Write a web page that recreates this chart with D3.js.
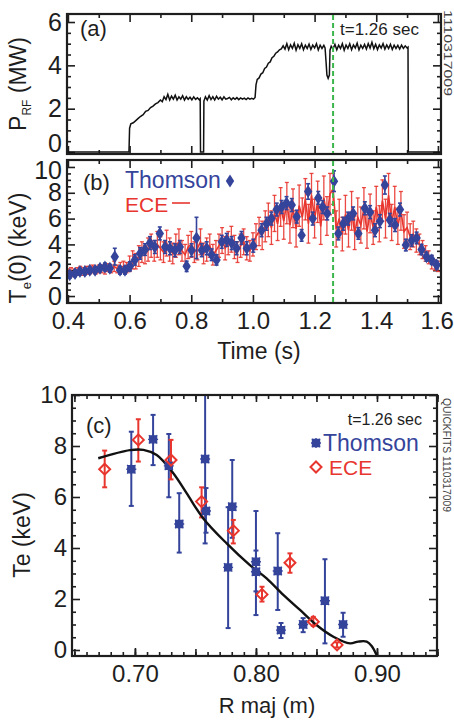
<!DOCTYPE html>
<html>
<head>
<meta charset="utf-8">
<script src="https://cdnjs.cloudflare.com/ajax/libs/d3/7.8.5/d3.min.js"></script>
<style>
body{margin:0;background:#fff}
svg{display:block;font-family:"Liberation Sans",Arial,sans-serif}
</style>
</head>
<body>
<script>
// ---- panel (a): RF power trace, [time (s), MW]
var prf = [[0.397,0],[0.598,0],[0.600,1.1],[0.604,1.3],[0.612,1.35],[0.620,1.45],[0.628,1.55],[0.636,1.65],[0.644,1.72],[0.652,1.88],[0.660,1.92],[0.668,2.05],[0.676,2.12],[0.684,2.22],[0.692,2.28],[0.700,2.4],[0.706,2.32],[0.712,2.55],[0.718,2.42],[0.724,2.66],[0.730,2.4],[0.736,2.58],[0.742,2.44],[0.748,2.62],[0.754,2.4],[0.760,2.55],[0.766,2.44],[0.772,2.6],[0.778,2.4],[0.784,2.55],[0.790,2.43],[0.796,2.53],[0.802,2.41],[0.808,2.55],[0.814,2.43],[0.820,2.5],[0.826,2.41],[0.829,2.46],[0.830,0],[0.840,0],[0.841,2.35],[0.846,2.55],[0.852,2.4],[0.858,2.6],[0.864,2.42],[0.870,2.55],[0.876,2.4],[0.882,2.57],[0.888,2.44],[0.894,2.53],[0.900,2.41],[0.906,2.55],[0.912,2.44],[0.918,2.47],[0.924,2.52],[0.930,2.41],[0.936,2.5],[0.942,2.43],[0.948,2.51],[0.954,2.42],[0.960,2.5],[0.966,2.44],[0.972,2.49],[0.978,2.42],[0.984,2.5],[0.990,2.44],[0.996,2.48],[1.002,2.44],[1.007,2.52],[1.010,3.1],[1.014,3.35],[1.020,3.42],[1.026,3.6],[1.032,3.66],[1.038,3.86],[1.044,3.92],[1.050,4.1],[1.056,4.16],[1.062,4.35],[1.068,4.42],[1.074,4.56],[1.080,4.62],[1.086,4.72],[1.092,4.76],[1.098,4.9],[1.104,4.75],[1.110,5.0],[1.116,4.72],[1.122,4.95],[1.128,4.78],[1.134,5.02],[1.140,4.7],[1.146,4.95],[1.152,4.78],[1.158,5.0],[1.164,4.72],[1.170,4.93],[1.176,4.78],[1.182,4.98],[1.188,4.73],[1.194,4.93],[1.200,4.8],[1.206,5.0],[1.212,4.71],[1.218,4.93],[1.224,4.78],[1.230,4.92],[1.234,4.8],[1.237,4.2],[1.240,3.55],[1.244,3.4],[1.248,3.55],[1.250,4.7],[1.254,4.88],[1.260,4.76],[1.266,4.97],[1.272,4.72],[1.278,4.93],[1.284,4.78],[1.290,5.0],[1.296,4.7],[1.302,4.94],[1.308,4.78],[1.314,5.0],[1.320,4.72],[1.326,4.94],[1.332,4.8],[1.338,5.02],[1.344,4.71],[1.350,4.93],[1.356,4.78],[1.362,4.97],[1.368,4.75],[1.374,5.0],[1.380,4.8],[1.386,5.06],[1.392,4.77],[1.398,4.97],[1.404,4.73],[1.410,4.94],[1.416,4.8],[1.422,5.0],[1.428,4.75],[1.434,4.94],[1.440,4.78],[1.446,4.97],[1.452,4.73],[1.458,4.93],[1.464,4.78],[1.470,4.92],[1.476,4.75],[1.482,4.93],[1.488,4.78],[1.494,4.9],[1.500,4.8],[1.503,4.84],[1.504,0],[1.610,0]];
var tMark = 1.26;

// ---- panel (b): central Te vs time
var thomT   = [0.406,0.423,0.439,0.455,0.471,0.488,0.504,0.520,0.536,0.552,0.569,0.585,0.601,0.617,0.634,0.650,0.666,0.682,0.698,0.715,0.731,0.747,0.763,0.785,0.801,0.817,0.834,0.850,0.866,0.882,0.899,0.915,0.931,0.947,0.963,0.980,1.001,1.028,1.044,1.060,1.077,1.093,1.109,1.126,1.142,1.158,1.179,1.194,1.212,1.226,1.241,1.263,1.277,1.293,1.309,1.325,1.342,1.363,1.380,1.396,1.412,1.428,1.444,1.461,1.477,1.496,1.515,1.531,1.547,1.563,1.580,1.596];
var thomTe  = [1.65,1.75,1.9,1.9,2.0,2.0,2.15,2.25,2.15,3.05,2.0,2.0,2.3,2.8,3.3,3.6,4.1,3.8,4.85,3.8,3.7,3.55,3.8,2.3,3.55,4.5,3.55,3.7,3.2,2.8,4.2,4.35,4.1,3.7,4.5,3.7,3.9,5.1,5.6,6.0,6.7,6.9,7.2,7.05,6.15,4.7,8.1,6.0,7.6,6.9,6.4,8.9,4.85,5.6,6.0,6.4,4.85,6.8,6.5,5.1,5.8,8.6,5.9,5.5,6.7,3.95,4.3,4.5,3.6,3.05,2.8,2.4];
var thomErr = [0.25,0.25,0.25,0.25,0.25,0.25,0.25,0.3,0.3,0.65,0.3,0.3,0.35,0.4,0.45,0.45,0.5,0.5,0.5,0.5,0.5,0.5,0.5,0.4,0.5,1.6,0.5,0.5,0.45,0.4,0.5,0.5,0.5,0.5,0.5,0.5,0.5,0.5,0.5,0.5,0.5,0.5,0.5,0.5,0.5,0.45,0.6,0.5,0.5,0.5,0.5,0.8,0.5,0.5,0.5,0.5,0.45,0.5,0.5,0.5,0.5,0.7,0.5,0.5,0.5,0.45,0.45,0.45,0.4,0.35,0.35,0.3];

var eceT = [0.40,0.41,0.42,0.43,0.44,0.45,0.46,0.47,0.48,0.49,0.50,0.51,0.52,0.53,0.54,0.55,0.56,0.57,0.58,0.59,0.60,0.61,0.62,0.63,0.64,0.65,0.66,0.67,0.68,0.69,0.70,0.71,0.72,0.73,0.74,0.75,0.76,0.77,0.78,0.79,0.80,0.81,0.82,0.83,0.84,0.85,0.86,0.87,0.88,0.89,0.90,0.91,0.92,0.93,0.94,0.95,0.96,0.97,0.98,0.99,1.00,1.01,1.02,1.03,1.04,1.05,1.06,1.07,1.08,1.09,1.10,1.11,1.12,1.13,1.14,1.15,1.16,1.17,1.18,1.19,1.20,1.21,1.22,1.23,1.24,1.25,1.26,1.27,1.28,1.29,1.30,1.31,1.32,1.33,1.34,1.35,1.36,1.37,1.38,1.39,1.40,1.41,1.42,1.43,1.44,1.45,1.46,1.47,1.48,1.49,1.50,1.51,1.52,1.53,1.54,1.55,1.56,1.57,1.58,1.59,1.60];
var eceTe = [1.8,1.9,1.8,1.9,2.0,1.9,2.0,2.0,2.1,2.0,
  2.1,2.1,2.0,2.2,2.1,2.3,2.1,2.2,2.3,2.2,
  2.5,2.8,2.7,3.1,3.4,3.2,3.6,3.9,3.5,4.0,
  3.7,3.4,4.1,3.6,3.3,3.9,4.2,3.5,3.2,3.8,
  4.0,3.4,3.7,4.2,3.3,3.6,3.9,3.2,3.5,3.9,
  4.3,3.7,4.1,4.4,3.8,3.4,3.9,4.2,3.7,3.5,
  4.0,4.6,5.0,4.7,5.4,5.9,5.3,6.4,5.6,6.9,
  5.8,7.2,5.5,6.8,5.2,7.0,6.1,7.5,5.6,7.8,
  6.0,7.3,5.4,7.6,6.2,7.9,8.3,5.2,6.0,4.8,
  6.3,5.1,6.6,4.9,6.1,5.5,6.8,5.0,6.4,5.3,
  6.9,5.6,7.4,6.0,7.8,5.7,6.9,5.4,6.6,5.0,
  5.3,4.6,4.8,4.3,4.0,3.6,3.3,3.0,2.6,2.4,2.3];
var eceErr = [0.3,0.3,0.3,0.3,0.3,0.3,0.3,0.3,0.3,0.3,
  0.3,0.3,0.3,0.3,0.3,0.4,0.3,0.4,0.4,0.4,
  0.6,0.7,0.6,0.8,0.8,0.7,0.9,0.9,0.8,1.0,
  0.9,0.8,1.0,0.9,0.8,0.9,1.0,0.8,0.8,0.9,
  1.0,0.8,0.9,1.0,0.8,0.9,0.9,0.8,0.8,0.9,
  1.0,0.9,0.9,1.0,0.9,0.8,0.9,1.0,0.9,0.8,
  0.9,1.0,1.1,1.1,1.2,1.3,1.3,1.4,1.3,1.5,
  1.4,1.6,1.4,1.5,1.4,1.6,1.5,1.6,1.5,1.7,
  1.5,1.6,1.4,1.7,1.5,1.6,1.2,1.4,1.5,1.3,
  1.5,1.3,1.5,1.3,1.5,1.4,1.6,1.3,1.5,1.3,
  1.6,1.4,1.6,1.5,1.7,1.4,1.6,1.4,1.5,1.3,
  1.2,1.0,1.0,0.9,0.8,0.7,0.6,0.5,0.5,0.4,0.4];

// ---- panel (c): Te profile at t = 1.26 s
var tsR  = [0.697,0.715,0.728,0.7366,0.758,0.7587,0.7804,0.777,0.800,0.800,0.818,0.8207,0.839,0.857,0.872];
var tsTe = [7.09,8.26,7.22,4.94,7.49,5.45,5.62,3.24,3.46,3.07,3.1,0.78,1.0,1.93,1.0];
var tsLo = [5.65,7.25,5.99,3.82,4.18,4.6,4.4,0.86,1.37,2.3,1.57,0.47,0.7,0.26,0.52];
var tsHi = [8.56,9.22,8.47,6.15,10.5,6.35,7.45,5.6,5.45,3.9,4.58,1.06,1.25,3.56,1.46];

var ecR  = [0.675,0.7028,0.7298,0.7551,0.7813,0.805,0.8281,0.8474,0.867];
var ecTe = [7.09,8.24,7.45,5.82,4.68,2.18,3.42,1.11,0.2];
var ecLo = [6.38,7.39,6.69,5.2,4.18,1.9,3.03,0.95,0.1];
var ecHi = [7.82,9.05,8.24,6.38,5.1,2.48,3.79,1.3,0.3];

var fitR  = [0.6697,0.6959,0.707,0.718,0.7317,0.7427,0.7565,0.7758,0.795,0.8088,0.8226,0.8364,0.85,0.864,0.8777,0.8845,0.8915,0.8956,0.8997];
var fitTe = [7.52,7.84,7.85,7.65,6.93,6.15,5.16,4.18,3.33,2.81,2.16,1.57,0.98,0.52,0.26,0.33,0.33,0.16,-0.2];

// tick values
var tTicks = [0.4,0.6,0.8,1.0,1.2,1.4,1.6];
var tMinor = [0.5,0.7,0.9,1.1,1.3,1.5];
var pTicks = [0,2,4,6];
var teTicks = [0,2,4,6,8,10];
var rTicks = [0.70,0.80,0.90];

var W = 454, H = 723;
var blue = "#35449b", red = "#e8362f", ink = "#1e1e1e";

var svg = d3.select("body").append("svg").attr("width", W).attr("height", H);
var defs = svg.append("defs");

var fa = {x0:67, x1:441, y0:14, y1:154};
var fb = {x0:67, x1:441, y0:160, y1:303};
var fc = {x0:72, x1:437, y0:395, y1:656};

var xT = d3.scaleLinear().domain([0.397, 1.610]).range([fa.x0, fa.x1]);
var yA = d3.scaleLinear().domain([-0.092, 6.37]).range([fa.y1, fa.y0]);
var yB = d3.scaleLinear().domain([-0.54, 10.54]).range([fb.y1, fb.y0]);
var xR = d3.scaleLinear().domain([0.648, 0.9496]).range([fc.x0, fc.x1]);
var yC = d3.scaleLinear().domain([-0.235, 10]).range([fc.y1, fc.y0]);

function clip(id, f){
  defs.append("clipPath").attr("id", id).append("rect")
    .attr("x", f.x0).attr("y", f.y0).attr("width", f.x1 - f.x0).attr("height", f.y1 - f.y0);
}
clip("ca", fa); clip("cb", fb); clip("cc", fc);

function axis(orient, scale, pos, vals, len, fmt, pad, fs){
  var mk = {bottom:d3.axisBottom, top:d3.axisTop, left:d3.axisLeft, right:d3.axisRight}[orient];
  var ax = mk(scale).tickValues(vals).tickSize(-len).tickPadding(pad || 0).tickFormat(fmt || "");
  var horiz = orient == "bottom" || orient == "top";
  var g = svg.append("g").attr("transform", horiz ? "translate(0," + pos + ")" : "translate(" + pos + ",0)").call(ax);
  g.select(".domain").remove();
  g.attr("font-family", null).attr("font-size", fs || 25);
  g.selectAll("line").attr("stroke", ink).attr("stroke-width", 1.6);
  g.selectAll("text").attr("fill", ink);
  return g;
}
function frame(f){
  svg.append("rect").attr("x", f.x0).attr("y", f.y0).attr("width", f.x1 - f.x0).attr("height", f.y1 - f.y0)
    .attr("fill", "none").attr("stroke", ink).attr("stroke-width", 2.2);
}
function halfSteps(lo, hi, step, majors){
  var out = [];
  for (var v = lo; v <= hi + 1e-9; v += step){
    var r = Math.round(v * 1000) / 1000;
    if (majors.indexOf(r) < 0) out.push(r);
  }
  return out;
}

// ===== panel (a)
var pMinor = halfSteps(0, 6, 0.5, pTicks);
var aLab = axis("left", yA, fa.x0, pTicks, 8, d3.format("d"), 5, 25);
aLab.selectAll("text").filter(function(d){ return d === 0; }).attr("dy", "-0.04em");
axis("left", yA, fa.x0, pMinor, 4);
axis("right", yA, fa.x1, pTicks, 8);
axis("right", yA, fa.x1, pMinor, 4);
axis("bottom", xT, fa.y1, tTicks, 8);
axis("bottom", xT, fa.y1, tMinor, 4);
axis("top", xT, fa.y0, tTicks, 8);
axis("top", xT, fa.y0, tMinor, 4);

svg.append("path").datum(prf).attr("clip-path", "url(#ca)")
  .attr("fill", "none").attr("stroke", "#111").attr("stroke-width", 1.5)
  .attr("d", d3.line().x(function(d){ return xT(d[0]); }).y(function(d){ return yA(d[1]); }));
frame(fa);

svg.append("text").attr("x", 80).attr("y", 36).attr("font-size", 22).attr("fill", ink).text("(a)");
svg.append("text").attr("x", 340).attr("y", 35).attr("font-size", 17).attr("fill", ink).text("t=1.26 sec");

var la = svg.append("text").attr("transform", "translate(26,84) rotate(-90)").attr("text-anchor", "middle")
  .attr("font-size", 23).attr("fill", ink);
la.append("tspan").text("P");
la.append("tspan").attr("font-size", 12).attr("dy", 5).text("RF");
la.append("tspan").attr("dy", -5).text(" (MW)");

svg.append("text").attr("transform", "translate(444,10) rotate(90)").attr("font-size", 10)
  .attr("textLength", 86).attr("lengthAdjust", "spacingAndGlyphs").attr("fill", "#444").text("1110317009");

// ===== panel (b)
var teMinor = halfSteps(0, 10, 0.5, teTicks);
var bLab = axis("left", yB, fb.x0, teTicks, 8, d3.format("d"), 5, 25);
bLab.selectAll("text").filter(function(d){ return d === 10; }).attr("dy", "0.46em");
axis("left", yB, fb.x0, teMinor, 4);
axis("right", yB, fb.x1, teTicks, 8);
axis("right", yB, fb.x1, teMinor, 4);
var bx = axis("bottom", xT, fb.y1, tTicks, 8, d3.format(".1f"), 9, 24);
bx.selectAll("text").filter(function(d){ return d === 1.6; }).attr("dx", "-0.05em");
axis("bottom", xT, fb.y1, tMinor, 4);
axis("top", xT, fb.y0, tTicks, 8);
axis("top", xT, fb.y0, tMinor, 4);

var gb = svg.append("g").attr("clip-path", "url(#cb)");
// ECE: error bars + connecting line
var eceIdx = d3.range(eceT.length);
var eb = gb.append("g").attr("stroke", red).attr("stroke-opacity", 0.9).attr("stroke-width", 1.3);
eceIdx.forEach(function(i){
  var x = xT(eceT[i]), y0 = yB(eceTe[i] - eceErr[i]), y1 = yB(eceTe[i] + eceErr[i]);
  eb.append("line").attr("x1", x).attr("x2", x).attr("y1", y0).attr("y2", y1);
  eb.append("line").attr("x1", x - 2).attr("x2", x + 2).attr("y1", y0).attr("y2", y0);
  eb.append("line").attr("x1", x - 2).attr("x2", x + 2).attr("y1", y1).attr("y2", y1);
});
gb.append("path").datum(eceIdx).attr("fill", "none").attr("stroke", red)
  .attr("stroke-width", 1.6)
  .attr("d", d3.line().x(function(i){ return xT(eceT[i]); }).y(function(i){ return yB(eceTe[i]); }));

// Thomson: error bars + diamonds
var diamond = "M0,-6.5L4.2,0L0,6.5L-4.2,0Z";
var tb = gb.append("g").attr("stroke", blue).attr("stroke-width", 1.6);
thomT.forEach(function(t, i){
  var x = xT(t), y0 = yB(thomTe[i] - thomErr[i]), y1 = yB(thomTe[i] + thomErr[i]);
  tb.append("line").attr("x1", x).attr("x2", x).attr("y1", y0).attr("y2", y1);
  tb.append("line").attr("x1", x - 2).attr("x2", x + 2).attr("y1", y0).attr("y2", y0);
  tb.append("line").attr("x1", x - 2).attr("x2", x + 2).attr("y1", y1).attr("y2", y1);
});
gb.selectAll("path.th").data(thomT).enter().append("path").attr("class", "th")
  .attr("d", diamond).attr("fill", blue)
  .attr("transform", function(t, i){ return "translate(" + xT(t) + "," + yB(thomTe[i]) + ")"; });
frame(fb);

svg.append("text").attr("x", 83).attr("y", 190).attr("font-size", 22).attr("fill", ink).text("(b)");
svg.append("text").attr("x", 125).attr("y", 188).attr("font-size", 23).attr("fill", blue).text("Thomson");
svg.append("path").attr("d", diamond).attr("fill", blue).attr("transform", "translate(230,181)");
svg.append("text").attr("x", 125).attr("y", 212).attr("font-size", 21).attr("fill", red).text("ECE");
svg.append("line").attr("x1", 172).attr("x2", 190).attr("y1", 203).attr("y2", 203)
  .attr("stroke", red).attr("stroke-width", 1.6);

var lb = svg.append("text").attr("transform", "translate(26,248) rotate(-90)").attr("text-anchor", "middle")
  .attr("font-size", 23).attr("fill", ink);
lb.append("tspan").text("T");
lb.append("tspan").attr("font-size", 13).attr("dy", 5).text("e");
lb.append("tspan").attr("dy", -5).text("(0) (keV)");

svg.append("text").attr("x", 259).attr("y", 359).attr("text-anchor", "middle").attr("font-size", 23)
  .attr("fill", ink).text("Time (s)");

// green time marker across (a) and (b)
[[fa.y0, fa.y1], [fb.y0, fb.y1]].forEach(function(r){
  svg.append("line").attr("x1", xT(tMark)).attr("x2", xT(tMark)).attr("y1", r[0] + 1).attr("y2", r[1] - 1)
    .attr("stroke", "#3cb54a").attr("stroke-width", 2).attr("stroke-dasharray", "5,3");
});

// ===== panel (c)
var rMinor = halfSteps(0.65, 0.95, 0.01, []);
var rMid = [0.65,0.70,0.75,0.80,0.85,0.90,0.95];
axis("left", yC, fc.x0, teTicks, 8, d3.format("d"), 5, 24);
axis("left", yC, fc.x0, teMinor, 4);
axis("right", yC, fc.x1, teTicks, 8);
axis("right", yC, fc.x1, teMinor, 4);
axis("bottom", xR, fc.y1, rTicks, 8, d3.format(".2f"), 9, 24);
axis("bottom", xR, fc.y1, rMid, 7);
axis("bottom", xR, fc.y1, rMinor, 4);
axis("top", xR, fc.y0, rMid, 7);
axis("top", xR, fc.y0, rMinor, 4);

var gc = svg.append("g").attr("clip-path", "url(#cc)");
function errBars(g, xs, los, his, color){
  var e = g.append("g").attr("stroke", color).attr("stroke-width", 2);
  xs.forEach(function(r, i){
    var x = xR(r), y0 = yC(los[i]), y1 = yC(his[i]);
    e.append("line").attr("x1", x).attr("x2", x).attr("y1", y0).attr("y2", y1);
    e.append("line").attr("x1", x - 2.5).attr("x2", x + 2.5).attr("y1", y0).attr("y2", y0);
    e.append("line").attr("x1", x - 2.5).attr("x2", x + 2.5).attr("y1", y1).attr("y2", y1);
  });
}
errBars(gc, tsR, tsLo, tsHi, blue);
errBars(gc, ecR, ecLo, ecHi, red);

gc.append("path").datum(d3.range(fitR.length)).attr("fill", "none").attr("stroke", "#111").attr("stroke-width", 2.4)
  .attr("d", d3.line().curve(d3.curveCatmullRom).x(function(i){ return xR(fitR[i]); }).y(function(i){ return yC(fitTe[i]); }));

var star = "M-3.5,-3.5h7v7h-7ZM-5,0H5M0,-5V5M-4.2,-4.2L4.2,4.2M-4.2,4.2L4.2,-4.2";
gc.selectAll("path.ts").data(tsR).enter().append("path").attr("class", "ts")
  .attr("d", star).attr("fill", blue).attr("stroke", blue).attr("stroke-width", 1.4)
  .attr("transform", function(r, i){ return "translate(" + xR(r) + "," + yC(tsTe[i]) + ")"; });
var odia = "M0,-5.5L5.5,0L0,5.5L-5.5,0Z";
gc.selectAll("path.ec").data(ecR).enter().append("path").attr("class", "ec")
  .attr("d", odia).attr("fill", "none").attr("stroke", red).attr("stroke-width", 2)
  .attr("transform", function(r, i){ return "translate(" + xR(r) + "," + yC(ecTe[i]) + ")"; });
frame(fc);

svg.append("text").attr("x", 86).attr("y", 433).attr("font-size", 22).attr("fill", ink).text("(c)");
svg.append("text").attr("x", 422).attr("y", 425).attr("text-anchor", "end").attr("font-size", 16).attr("fill", ink).text("t=1.26 sec");
svg.append("path").attr("d", star).attr("fill", blue).attr("stroke", blue).attr("stroke-width", 1.4).attr("transform", "translate(316,443)");
svg.append("text").attr("x", 323).attr("y", 451).attr("font-size", 23).attr("fill", blue).text("Thomson");
svg.append("path").attr("d", odia).attr("fill", "none").attr("stroke", red).attr("stroke-width", 2).attr("transform", "translate(316,467)");
svg.append("text").attr("x", 329).attr("y", 475).attr("font-size", 21).attr("fill", red).text("ECE");

svg.append("text").attr("transform", "translate(30,535) rotate(-90)").attr("text-anchor", "middle")
  .attr("font-size", 23).attr("fill", ink).text("Te (keV)");
svg.append("text").attr("x", 267).attr("y", 713).attr("text-anchor", "middle").attr("font-size", 22)
  .attr("fill", ink).text("R maj (m)");
svg.append("text").attr("transform", "translate(443,398) rotate(90)").attr("font-size", 10)
  .attr("textLength", 114).attr("lengthAdjust", "spacingAndGlyphs").attr("fill", "#444").text("QUICKFITS 1110317009");
</script>
</body>
</html>
